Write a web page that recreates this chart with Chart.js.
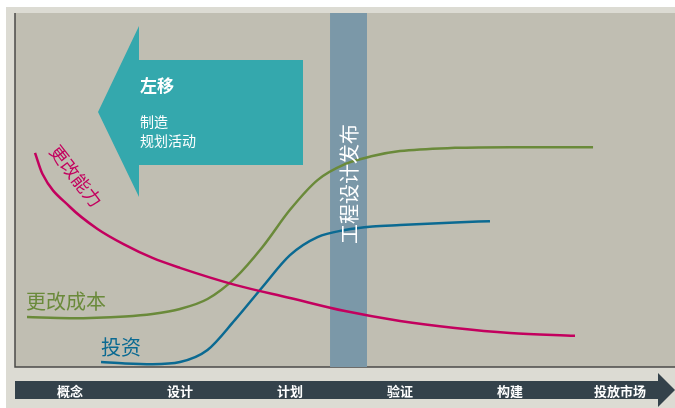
<!DOCTYPE html>
<html>
<head>
<meta charset="utf-8">
<script src="https://cdn.jsdelivr.net/npm/chart.js@4"></script>
<style>
  html, body { margin: 0; padding: 0; background: #ffffff; }
  #wrap { width: 675px; height: 408px; }
</style>
</head>
<body>
<div id="wrap"><canvas id="chart" width="675" height="408"></canvas></div>
<script>
// stages along the bottom arrow
const stages = ['概念', '设计', '计划', '验证', '构建', '投放市场'];

// 更改能力 (ability to change)
const abilityX = [-0.318, -0.25, 0, 0.25, 0.5, 0.75, 1.0, 1.5, 2.0, 2.5, 3.0, 3.5, 4.0, 4.591];
const abilityY = [60.5, 54.5, 45.2, 39.0, 34.5, 30.8, 28.0, 23.2, 19.5, 15.8, 13.0, 11.0, 9.6, 8.8];

// 更改成本 (cost of change)
const costX = [-0.391, 0, 0.5, 0.75, 1.0, 1.25, 1.5, 1.75, 2.0, 2.25, 2.5, 2.75, 3.0, 3.5, 4.0, 4.755];
const costY = [14.1, 13.8, 14.3, 15.0, 16.4, 19.2, 25.1, 33.9, 44.4, 52.8, 57.3, 59.6, 61.0, 61.9, 62.1, 62.1];

// 投资 (investment)
const investX = [0.282, 0.5, 0.75, 1.0, 1.25, 1.5, 1.75, 2.0, 2.25, 2.5, 2.75, 3.0, 3.5, 3.818];
const investY = [1.4, 1.0, 0.8, 1.4, 4.8, 13.3, 22.6, 31.6, 36.7, 38.7, 39.7, 40.1, 40.8, 41.2];

// engineering release band (x range)
const releaseBand = [2.364, 2.7];

const CJK = '"Noto Sans CJK SC", "Noto Sans", sans-serif';

function pts(xs, ys) {
    return xs.map((x, i) => ({ x: x, y: ys[i] }));
}

const decorPlugin = {
    id: 'decor',
    beforeDraw(chart) {
        const ctx = chart.ctx;
        const a = chart.chartArea;
        ctx.save();
        // outer frame
        ctx.fillStyle = '#dcdbd3';
        ctx.fillRect(6, 7, chart.width - 6, chart.height - 7);
        // plot background
        ctx.fillStyle = '#c0beb2';
        ctx.fillRect(a.left, a.top, a.right - a.left, a.bottom - a.top);
        // axis lines
        ctx.strokeStyle = '#4a4a48';
        ctx.lineWidth = 1.5;
        ctx.beginPath();
        ctx.moveTo(a.left, a.top);
        ctx.lineTo(a.left, a.bottom);
        ctx.lineTo(a.right, a.bottom);
        ctx.stroke();

        // release band
        const xs = chart.scales.x;
        const b0 = xs.getPixelForValue(releaseBand[0]);
        const b1 = xs.getPixelForValue(releaseBand[1]);
        ctx.fillStyle = '#7b98a8';
        ctx.fillRect(b0, a.top, b1 - b0, a.bottom - a.top);

        // shift-left arrow
        ctx.fillStyle = '#34a8ad';
        ctx.beginPath();
        ctx.moveTo(98, 112);
        ctx.lineTo(139, 26);
        ctx.lineTo(139, 60);
        ctx.lineTo(303, 60);
        ctx.lineTo(303, 165);
        ctx.lineTo(139, 165);
        ctx.lineTo(139, 197);
        ctx.closePath();
        ctx.fill();

        // bottom stage arrow
        ctx.fillStyle = '#34424b';
        ctx.beginPath();
        ctx.moveTo(15, 381);
        ctx.lineTo(658, 381);
        ctx.lineTo(658, 373);
        ctx.lineTo(675, 390);
        ctx.lineTo(658, 407);
        ctx.lineTo(658, 399);
        ctx.lineTo(15, 399);
        ctx.closePath();
        ctx.fill();
        ctx.restore();
    },
    afterDraw(chart) {
        const ctx = chart.ctx;
        const xs = chart.scales.x;
        ctx.save();
        // stage labels
        ctx.fillStyle = '#ffffff';
        ctx.font = 'bold 13px ' + CJK;
        ctx.textAlign = 'center';
        ctx.textBaseline = 'middle';
        stages.forEach((s, i) => {
            ctx.fillText(s, xs.getPixelForValue(i), 391);
        });

        // arrow text
        ctx.textAlign = 'left';
        ctx.font = 'bold 17px ' + CJK;
        ctx.fillText('左移', 140, 86);
        ctx.font = '14px ' + CJK;
        ctx.fillText('制造', 140, 122);
        ctx.fillText('规划活动', 140, 141);

        // band text
        const bx = (xs.getPixelForValue(releaseBand[0]) + xs.getPixelForValue(releaseBand[1])) / 2;
        ctx.save();
        ctx.translate(bx + 1, 184);
        ctx.rotate(-Math.PI / 2);
        ctx.textAlign = 'center';
        ctx.font = '20px ' + CJK;
        ctx.fillText('工程设计发布', 0, 0);
        ctx.restore();

        // series labels
        ctx.font = '20px ' + CJK;
        ctx.fillStyle = '#6a8a3a';
        ctx.fillText('更改成本', 26, 301);
        ctx.fillStyle = '#0b6a92';
        ctx.fillText('投资', 101, 347);

        ctx.save();
        ctx.translate(76, 176);
        ctx.rotate(52 * Math.PI / 180);
        ctx.textAlign = 'center';
        ctx.fillStyle = '#c3005e';
        ctx.font = '18px ' + CJK;
        ctx.fillText('更改能力', 0, 0);
        ctx.restore();
        ctx.restore();
    }
};

function lineSet(label, data, color) {
    return {
        label: label,
        data: data,
        borderColor: color,
        borderWidth: 2.5,
        pointRadius: 0,
        fill: false,
        cubicInterpolationMode: 'monotone'
    };
}

new Chart(document.getElementById('chart'), {
    type: 'line',
    data: {
        datasets: [
            lineSet('更改能力', pts(abilityX, abilityY), '#c3005e'),
            lineSet('更改成本', pts(costX, costY), '#6a8a3a'),
            lineSet('投资', pts(investX, investY), '#0b6a92')
        ]
    },
    options: {
        responsive: false,
        animation: false,
        layout: { padding: { left: 15, top: 13, right: 0, bottom: 41 } },
        plugins: { legend: { display: false }, tooltip: { enabled: false } },
        scales: {
            x: { type: 'linear', min: -0.5, max: 5.5, display: false },
            y: { min: 0, max: 100, display: false }
        }
    },
    plugins: [decorPlugin]
});
</script>
</body>
</html>
